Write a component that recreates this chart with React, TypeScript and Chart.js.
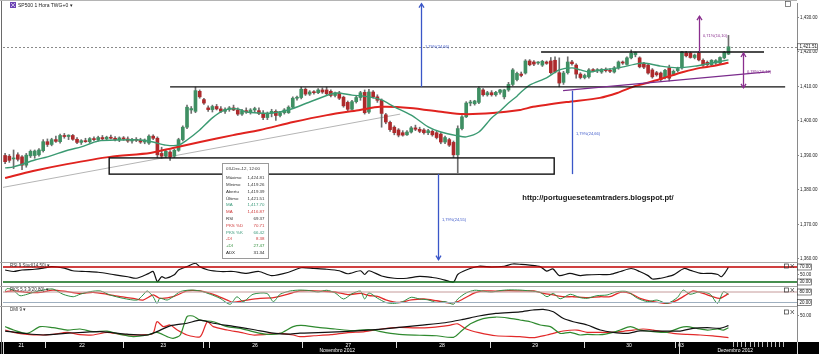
import React, { useEffect, useRef } from "react";
import { Chart, registerables } from "chart.js";

Chart.register(...registerables);

const FONT = "Arial, 'Liberation Sans', sans-serif";

// ---------------- data (hourly candles, bar index 0..171) ----------------
const opens = [
  1390.0, 1389.8, 1389.0, 1390.2, 1389.6, 1387.2, 1389.9, 1390.0, 1390.2, 1391.4,
  1394.0, 1393.2, 1394.6, 1394.0, 1395.8, 1395.5, 1395.8, 1394.7, 1393.8, 1394.3,
  1394.0, 1394.9, 1394.6, 1395.2, 1394.8, 1395.3, 1395.0, 1394.6, 1395.1,
  1394.8, 1394.2, 1394.7, 1394.4, 1393.9, 1393.6, 1395.6, 1395.0, 1390.6, 1389.8, 1391.0,
  1389.8, 1391.5, 1394.6, 1398.2, 1403.2, 1402.8, 1408.6, 1406.2,
  1403.8, 1403.3, 1404.2, 1403.5, 1402.8, 1403.4, 1403.8, 1403.2, 1402.0, 1403.0, 1402.6, 1403.2,
  1403.0, 1402.2, 1401.0, 1402.2, 1402.8, 1401.6, 1402.4, 1402.4, 1404.0, 1406.6, 1406.8,
  1409.2, 1407.8, 1408.4, 1408.2, 1409.0, 1409.0, 1408.6, 1407.4, 1408.1, 1406.9,
  1405.4, 1403.4, 1405.6, 1406.8, 1408.3, 1402.6, 1408.4, 1407.0, 1406.0, 1401.8, 1399.6, 1398.2,
  1397.4, 1396.6, 1396.0, 1396.8, 1398.0, 1397.6, 1397.4, 1396.6, 1397.0, 1396.6, 1396.2, 1393.9,
  1394.6, 1393.8, 1390.2, 1397.8, 1401.2, 1405.2, 1405.0, 1405.4, 1409.0, 1407.6,
  1408.2, 1407.6, 1408.3, 1407.0, 1409.0, 1410.6, 1412.0, 1413.6, 1413.9, 1417.4, 1417.1, 1416.8,
  1416.2, 1417.1, 1417.4, 1417.6, 1414.0, 1411.2, 1414.0, 1417.1, 1416.2, 1413.6, 1412.6,
  1412.8, 1414.8, 1414.6, 1414.2, 1415.0, 1414.6, 1414.2, 1415.4, 1417.1, 1416.4, 1418.3, 1419.2,
  1418.3, 1416.6, 1416.2, 1414.8, 1414.0, 1413.9, 1412.6, 1415.4, 1413.6, 1414.6,
  1415.4, 1419.7, 1419.7, 1418.4, 1419.7, 1417.6, 1417.0, 1416.2, 1416.8, 1416.8, 1418.3, 1419.39,
];
const highs = [
  1390.6, 1390.3, 1391.6, 1390.8, 1390.0, 1390.6, 1391.6, 1391.6, 1392.0, 1394.6,
  1394.8, 1395.0, 1395.6, 1396.2, 1396.4, 1396.0, 1396.1, 1395.2, 1394.6, 1395.0,
  1395.2, 1395.4, 1395.6, 1395.8, 1395.6, 1395.9, 1395.5, 1395.4, 1395.5,
  1395.4, 1395.0, 1395.2, 1395.0, 1394.8, 1396.0, 1396.0, 1395.4, 1392.4, 1391.6, 1391.4,
  1391.8, 1395.0, 1398.6, 1404.6, 1404.2, 1409.8, 1409.0, 1406.6,
  1404.4, 1404.6, 1404.8, 1404.2, 1403.8, 1404.2, 1404.6, 1403.8, 1403.4, 1403.8, 1403.6, 1404.0,
  1403.8, 1403.0, 1402.6, 1403.4, 1403.2, 1402.8, 1403.6, 1404.4, 1407.0, 1407.2, 1409.8,
  1409.6, 1408.8, 1408.8, 1409.4, 1409.6, 1409.8, 1409.0, 1408.4, 1408.6, 1407.2,
  1405.8, 1406.0, 1407.2, 1408.6, 1409.0, 1409.2, 1408.8, 1407.6, 1406.4, 1402.2, 1400.0, 1398.6,
  1397.8, 1397.2, 1397.2, 1398.4, 1398.8, 1398.2, 1397.8, 1397.6, 1397.4, 1397.0, 1396.6, 1395.6,
  1395.0, 1394.2, 1398.6, 1401.6, 1405.6, 1406.0, 1406.0, 1409.9, 1409.4, 1408.6,
  1408.8, 1408.6, 1409.2, 1409.2, 1411.2, 1415.2, 1414.2, 1414.2, 1417.8, 1417.8, 1417.5, 1417.2,
  1417.6, 1417.4, 1418.4, 1418.6, 1418.3, 1414.4, 1418.6, 1417.6, 1416.6, 1414.0, 1413.6,
  1415.2, 1415.2, 1415.2, 1415.2, 1415.4, 1415.2, 1415.8, 1417.4, 1417.4, 1418.6, 1420.6, 1420.0,
  1418.6, 1417.0, 1416.6, 1415.2, 1414.4, 1414.2, 1415.0, 1416.2, 1414.8, 1415.6,
  1420.2, 1420.2, 1420.0, 1419.4, 1420.2, 1418.0, 1417.4, 1417.8, 1417.8, 1418.6, 1420.2, 1424.81,
];
const lows = [
  1387.6, 1388.0, 1386.2, 1388.4, 1385.9, 1386.6, 1389.4, 1389.2, 1389.8, 1391.0,
  1392.6, 1392.8, 1393.8, 1393.6, 1395.0, 1394.6, 1394.4, 1393.4, 1393.2, 1393.8,
  1393.6, 1394.2, 1394.2, 1394.4, 1394.3, 1394.8, 1394.2, 1394.0, 1394.4,
  1393.8, 1393.6, 1394.0, 1393.5, 1393.4, 1393.2, 1394.6, 1389.4, 1389.2, 1389.4, 1388.6,
  1389.4, 1391.2, 1394.2, 1397.8, 1402.2, 1402.4, 1406.6, 1404.8,
  1402.8, 1402.6, 1403.2, 1402.4, 1402.2, 1402.8, 1403.0, 1401.6, 1401.6, 1402.2, 1402.0, 1402.6,
  1401.8, 1400.4, 1400.4, 1401.2, 1400.2, 1401.2, 1402.0, 1402.2, 1403.8, 1406.0, 1406.4,
  1407.4, 1407.4, 1407.8, 1407.9, 1408.0, 1407.6, 1407.0, 1407.0, 1406.2, 1404.0,
  1403.0, 1403.2, 1405.2, 1406.0, 1402.0, 1402.2, 1406.6, 1405.4, 1398.2, 1399.2, 1397.0, 1396.0,
  1395.4, 1395.6, 1395.8, 1396.5, 1397.2, 1396.6, 1396.2, 1396.0, 1395.6, 1394.8, 1393.4, 1393.4,
  1392.6, 1389.4, 1385.0, 1397.4, 1401.0, 1404.4, 1404.6, 1405.0, 1407.2, 1407.2,
  1407.2, 1407.2, 1407.8, 1406.4, 1408.6, 1410.2, 1411.6, 1412.8, 1413.6, 1416.0, 1416.0, 1416.4,
  1415.8, 1416.4, 1413.6, 1413.9, 1409.9, 1410.6, 1413.6, 1416.2, 1412.4, 1412.2, 1412.2,
  1412.4, 1414.2, 1414.0, 1413.8, 1414.2, 1414.0, 1413.9, 1415.0, 1416.4, 1416.2, 1418.0, 1418.6,
  1415.4, 1415.2, 1413.6, 1412.4, 1413.0, 1411.6, 1412.2, 1411.6, 1413.2, 1414.2,
  1415.0, 1418.6, 1418.2, 1418.0, 1417.4, 1415.8, 1415.9, 1415.9, 1416.4, 1416.4, 1418.0, 1419.26,
];
const closes = [
  1388.2, 1388.6, 1389.3, 1388.9, 1387.2, 1390.1, 1391.2, 1391.3, 1391.6, 1394.0,
  1393.2, 1394.6, 1394.1, 1395.8, 1395.5, 1395.9, 1394.7, 1393.8, 1394.3, 1394.0,
  1394.9, 1394.6, 1395.2, 1394.8, 1395.3, 1395.0, 1394.6, 1395.1, 1394.8,
  1394.2, 1394.7, 1394.4, 1393.9, 1394.5, 1395.6, 1395.0, 1390.2, 1389.8, 1391.2, 1389.6,
  1391.5, 1394.6, 1398.2, 1404.0, 1403.6, 1408.8, 1407.0, 1405.2,
  1403.3, 1404.2, 1403.5, 1402.8, 1403.4, 1403.8, 1403.2, 1402.0, 1403.0, 1402.6, 1403.2, 1403.6,
  1402.2, 1401.0, 1402.2, 1402.8, 1401.6, 1402.4, 1403.2, 1404.0, 1406.6, 1406.8, 1409.2,
  1407.8, 1408.4, 1408.2, 1409.0, 1408.4, 1407.9, 1407.4, 1408.1, 1406.6, 1404.4,
  1403.4, 1405.6, 1406.8, 1408.2, 1402.4, 1408.4, 1407.0, 1406.0, 1402.2, 1399.7, 1397.5, 1396.6,
  1395.9, 1395.9, 1396.8, 1398.0, 1397.6, 1397.0, 1396.6, 1397.2, 1396.0, 1395.2, 1393.9, 1395.2,
  1393.0, 1390.2, 1397.8, 1401.2, 1405.2, 1405.5, 1405.8, 1409.5, 1407.6, 1408.2,
  1407.6, 1408.3, 1409.0, 1409.0, 1410.6, 1414.8, 1413.8, 1413.2, 1417.4, 1416.3, 1416.5, 1416.9,
  1417.3, 1416.7, 1414.0, 1414.2, 1411.0, 1413.9, 1417.1, 1416.6, 1413.6, 1412.6, 1413.2,
  1414.8, 1414.6, 1414.9, 1415.0, 1414.6, 1414.4, 1415.4, 1417.1, 1416.8, 1418.3, 1419.6, 1419.8,
  1415.7, 1415.6, 1413.9, 1412.8, 1413.4, 1412.0, 1414.7, 1412.4, 1414.4, 1415.2,
  1420.0, 1418.9, 1418.4, 1419.1, 1417.7, 1416.2, 1416.3, 1417.6, 1417.5, 1418.4, 1419.9, 1421.51,
];
const lastPrice = 1421.51;

// moving averages, read as [bar, price]
const fastMA = [
  [0, 1386.4], [2, 1386.7], [7, 1388.7], [10, 1389.6], [15, 1391.6], [18, 1392.5], [22, 1394.2],
  [27, 1394.5], [32, 1394.5], [35, 1393.9], [38, 1393.0], [41, 1393.0], [43, 1394.5], [46, 1397.4],
  [49, 1400.9], [52, 1403.2], [55, 1403.5], [57, 1402.6], [60, 1402.3], [63, 1402.3], [67, 1403.2],
  [72, 1405.5], [78, 1408.1], [82, 1407.5], [86, 1407.0], [89, 1406.1], [92, 1404.1], [96, 1401.7],
  [100, 1398.3], [103, 1396.8], [107, 1395.7], [109, 1395.4], [112, 1396.8], [115, 1400.9],
  [117, 1402.9], [119, 1405.2], [121, 1407.2], [122, 1408.4], [124, 1410.4], [128, 1412.5],
  [131, 1414.8], [134, 1415.4], [136, 1414.8], [138, 1414.2], [141, 1414.8], [145, 1415.4],
  [149, 1416.5], [151, 1416.8], [155, 1415.9], [159, 1415.4], [163, 1415.9], [167, 1416.8], [171, 1417.7],
];
const slowMA = [
  [0, 1383.5], [6.6, 1385.5], [14.6, 1387.5], [24.8, 1389.6], [34.3, 1390.7], [39.7, 1392.2],
  [46.1, 1393.9], [53.9, 1395.9], [60.3, 1397.4], [68.1, 1399.7], [76.1, 1401.7], [83.9, 1403.2],
  [88.6, 1404.1], [95.7, 1403.8], [103.5, 1402.6], [108.2, 1402.0], [115.3, 1402.3], [121.7, 1403.2],
  [124.8, 1404.1], [132.8, 1405.5], [140.6, 1406.7], [144.7, 1408.1], [148.4, 1409.9], [152.5, 1411.3],
  [156.5, 1412.8], [160.3, 1414.2], [164.3, 1415.4], [167.3, 1415.9], [171, 1416.87],
];

// drawn studies: [fromBar, price] pairs / [fromBar, toBar, price]
const guideLine = [[-1.2, 1380.6], [93.4, 1402.0]];
const purpleTrend = [[131.9, 1408.8], [180.9, 1414.3]];
const levelLines = [[39, 184.4, 1409.9], [126.7, 179.4, 1420.0]];
const zoneBox = [24.6, 129.8, 1389.3, 1384.6];
// [bar, fromPrice, toPrice, label, labelPrice, heads]
const blueMeasures = [
  [98.3, 1409.9, 1434.0, "1,79%(24,66)", 1421.6, 1],
  [102.4, 1384.6, 1359.8, "1,79%(24,55)", 1371.3, 1],
  [134.0, 1408.8, 1384.6, "1,79%(24,66)", 1396.2, 0],
];
const purpleMeasures = [
  [164.1, 1420.0, 1430.4, "0,71%(10,10)", 1424.6, 1],
  [174.4, 1419.7, 1409.6, "0,78%(10,12)", 1414.2, 2],
];

const priceTicks = [1360, 1370, 1380, 1390, 1400, 1410, 1420, 1430];

// indicators, read as [bar, value]
const rsiPoints = [
  [0, 62], [2, 58], [4, 62], [7, 64], [9, 67], [11, 71], [14, 67], [16, 60], [19, 58], [22, 56],
  [26, 49], [29, 44], [31, 40], [34, 53], [35, 58], [36, 31], [37, 44], [38, 40], [40, 49], [41, 62],
  [43, 71], [45, 80], [46, 71], [48, 62], [51, 58], [54, 58], [57, 53], [60, 58], [63, 47], [67, 56],
  [70, 68], [73, 66], [76, 64], [79, 60], [81, 52], [84, 60], [85, 50], [86, 60], [89, 46], [92, 40],
  [95, 40], [98, 45], [101, 42], [103, 38], [106, 30], [107, 50], [109, 62], [112, 72], [115, 70],
  [118, 72], [120, 78], [122, 77], [124, 75], [126.5, 71], [128, 59], [129.5, 65], [131, 47],
  [133.5, 53], [136, 47], [137.5, 49], [140.5, 50], [143, 50], [145.5, 58], [148, 66], [150, 58],
  [152, 47], [153, 38], [155, 40], [156.5, 44], [158, 49], [160.5, 66], [162, 61], [164.5, 53],
  [167, 53], [168.5, 50], [169.3, 44], [170.2, 55], [171, 69.37],
];
const rsiLevels = [70, 30];
const rsiTicks = [30, 50, 70];

const stochK = [
  [0, 86], [0.5, 100], [1.9, 91], [3.5, 59], [5.2, 67], [6.6, 78], [9, 91], [11.3, 97], [13.7, 67],
  [16.1, 53], [17.7, 67], [20.1, 82], [22.5, 86], [24.8, 63], [27.9, 44], [31.2, 34], [32.6, 63],
  [33.6, 86], [35, 53], [35.9, 15], [36.6, 44], [38.3, 34], [39.7, 53], [41.4, 82], [43.7, 91],
  [46.1, 86], [48.5, 67], [50.8, 44], [53.2, 10], [54.8, 53], [56.3, 25], [58.6, 67], [61.9, 72],
  [63.4, 25], [65, 67], [67.4, 86], [69.7, 91], [72, 88], [74, 80], [76, 90], [78, 75], [80, 40],
  [82, 70], [84, 85], [85, 40], [86, 75], [88, 45], [90, 20], [92, 15], [94, 25], [96, 50], [98, 40],
  [100, 35], [102, 20], [104, 25], [106, 10], [107, 40], [109, 75], [111, 90], [113, 85], [115, 80],
  [117, 88], [119, 92], [121.7, 91], [124.1, 86], [126.5, 78], [128.1, 53], [129.6, 72], [131.2, 41],
  [133.6, 67], [135.9, 48], [137.6, 44], [139.9, 59], [142.3, 63], [144.7, 82], [147.1, 82],
  [149.5, 44], [151.9, 25], [154.1, 34], [156.5, 15], [158.9, 48], [160.3, 91], [161.9, 67],
  [164.3, 82], [166.7, 67], [168.4, 15], [169.8, 82], [171, 66.42],
];
const stochD = [
  [0, 82], [1.9, 86], [5.2, 78], [8.3, 78], [11.3, 91], [14.7, 82], [17.7, 72], [20.8, 78], [24.1, 67],
  [27.2, 53], [30.3, 44], [32.6, 34], [35, 63], [36.6, 44], [39.7, 53], [43, 86], [46.1, 86], [49.2, 67],
  [52.5, 34], [53.9, 21], [57.2, 34], [60.3, 44], [63.4, 48], [66.7, 67], [69.7, 86], [72, 88],
  [75, 85], [78, 80], [81, 65], [84, 72], [86, 60], [88, 55], [90, 35], [93, 20], [96, 35], [99, 40],
  [102, 30], [105, 18], [107, 25], [109, 50], [111, 75], [113, 86], [116, 85], [119, 88], [122, 86],
  [125, 86], [127.3, 72], [129.6, 63], [132, 53], [134.3, 53], [137.6, 48], [140.7, 53], [143, 53],
  [145.4, 78], [147.8, 72], [150.1, 44], [153.2, 25], [156.5, 15], [158.9, 34], [161.2, 67],
  [162.6, 86], [165, 72], [167.3, 53], [169, 44], [171, 70.71],
];
const stochLevels = [80, 20];
const stochTicks = [20, 80];

const adxPoints = [
  [0, 21], [4, 17], [9, 13.5], [15, 17], [22.5, 20], [28.8, 15], [33.6, 13.5], [35.9, 20], [39, 31],
  [43, 36], [46.1, 42], [49.2, 36], [54, 30], [58.6, 24], [63.4, 17], [66.7, 15], [69.7, 17], [74, 18],
  [80, 20], [86, 23], [92, 27], [98, 32], [104, 37], [108, 43], [112, 50], [116, 55], [121.7, 58],
  [124.8, 61.5], [127.2, 62.8], [129.6, 58], [131.9, 45.5], [134.3, 39], [137.6, 32.7], [140.7, 23],
  [143.7, 18.6], [147, 16.6], [150.1, 21.2], [153.2, 21], [156.5, 21], [159.6, 21], [162.6, 26.3],
  [166, 27.6], [169, 26.3], [171, 31.34],
];
const plusDI = [
  [0, 29.5], [2, 23], [5.2, 16.6], [8.3, 29.5], [11.3, 27.6], [14.7, 23], [17.7, 25], [20.8, 20],
  [24.1, 21], [27.2, 14.7], [30.3, 10.3], [33.6, 13.5], [35.9, 18.6], [38.3, 10.3], [39.7, 7],
  [41.4, 13.5], [43, 48.7], [44.4, 50], [46.1, 42], [49.2, 39], [52.5, 29.5], [55.6, 26.3], [58.6, 20],
  [61.9, 14.7], [65, 16.6], [68.1, 29.5], [70, 32], [74, 28], [78, 25], [82, 22], [86, 24], [90, 18],
  [94, 14], [98, 13], [102, 12], [106, 9], [108, 22], [110, 35], [113, 45], [116, 48], [119, 46],
  [121.7, 42.3], [124.1, 39], [126.5, 32.7], [128.9, 29.5], [131.2, 16.6], [133.6, 18.6], [135.9, 13.5],
  [137.6, 14.7], [140.7, 14], [143.7, 18.6], [145.4, 23], [147.8, 29.5], [150.1, 23], [153.2, 20],
  [156.5, 18.6], [159.6, 27.6], [161.2, 29.5], [163.5, 26.3], [166, 23], [168.4, 25], [169.8, 23],
  [171, 27.47],
];
const minusDI = [
  [0, 23], [2, 18.6], [5.2, 14.7], [8.3, 13.5], [11.3, 14.7], [14.7, 18.6], [17.7, 14], [20.8, 13.5],
  [24.1, 18.6], [27.2, 14.7], [30.3, 13.5], [33.6, 14], [35, 16.6], [35.9, 39], [37.4, 29.5], [39, 32.7],
  [40.7, 23], [43, 13.5], [46.1, 10.3], [47.8, 39], [49.2, 29.5], [52.5, 23], [55.6, 18.6], [58.6, 13.5],
  [61.9, 14.7], [65, 16.6], [68.1, 13.5], [69.7, 10.3], [73, 12], [77, 14], [81, 18], [85, 20], [89, 25],
  [93, 28], [97, 27], [101, 28], [105, 32], [107, 35], [109, 25], [112, 18], [116, 12], [121.7, 10.3],
  [124.8, 8.3], [128.1, 13.5], [129.6, 16.6], [131.9, 21.2], [135.2, 23], [137.6, 18.6], [140.7, 18.6],
  [143, 18.6], [145.4, 19.9], [148.5, 23], [150.8, 25], [153.2, 23], [155.5, 19.9], [157.9, 16.6],
  [161.2, 14.7], [164.3, 13.5], [167.3, 11.6], [171, 8.38],
];
const dmiTicks = [50];

// time axis
const dayLabels = ["21", "22", "23", "26", "27", "28", "29", "30", "03"];
const dayLabelBars = [3.8, 18.2, 37.4, 59.1, 81.1, 103.3, 125.3, 147.5, 159.8];
const daySeparatorBars = [9.5, 27.9, 46.8, 48.2, 70.2, 92.4, 114.7, 136.9, 158.4];
const monthLabels = ["Novembro 2012", "Dezembro 2012"];
const monthLabelBars = [78.5, 172.6];
const monthSeparatorBars = [159.3];
const futureBars = [172, 173, 174, 175, 176, 177, 178, 179, 180, 181, 182, 183, 184];

// data window
const tipTitle = "03-Dec-12, 12:00";
const tipLabels = ["Máximo", "Mínimo", "Abertu", "Último", "MA", "MA", "RSI", "PKS %D", "PKS %K", "-DI", "+DI", "ADX"];
const tipValues = ["1,424.81", "1,419.26", "1,419.39", "1,421.51", "1,417.70", "1,416.87", "69.37", "70.71", "66.42", "8.38", "27.47", "31.34"];

// ---------------- styling ----------------
const X_MIN = -0.5;
const X_MAX = 187.2;
const GREEN_BODY = "#3f8f63";
const RED_BODY = "#ad2a2c";
const FAST_MA = "#3b9a72";
const SLOW_MA = "#e0231f";
const BLUE = "#3a56c8";
const PURPLE = "#8a2e8e";
const tipColors = ["#333", "#333", "#333", "#333", "#3a9a7a", "#cf3a3a", "#333", "#cf3a3a", "#3a9a7a", "#cf3a3a", "#2f8f3a", "#222"];

const priceFmt = (v: number) => Number(v).toLocaleString("en-US", { minimumFractionDigits: 2, maximumFractionDigits: 2 });
const numFmt = (v: number) => Number(v).toFixed(2);
const pts = (arr: any[]) => arr.map(([x, y]) => ({ x, y }));
const flat = (v: number) => [{ x: X_MIN, y: v }, { x: X_MAX, y: v }];

function hiddenX() {
  return { type: "linear", min: X_MIN, max: X_MAX, offset: false, display: false };
}

function rightAxis(min: number, max: number, ticks: number[], fmt: (v: number) => string) {
  return {
    position: "right",
    min,
    max,
    afterBuildTicks: (s: any) => {
      s.ticks = ticks.map((v) => ({ value: v }));
    },
    afterFit: (s: any) => {
      s.width = 22;
      s.paddingTop = 0;
      s.paddingBottom = 0;
    },
    grid: { display: true, drawOnChartArea: false, drawTicks: true, tickLength: 2, color: "#8a8a8a" },
    border: { display: true, color: "#8a8a8a", width: 1 },
    ticks: {
      font: { size: 4.5, family: FONT },
      color: "#222",
      padding: 1,
      autoSkip: false,
      callback: (v: number) => fmt(v),
    },
  };
}

function chevron(ctx: CanvasRenderingContext2D, x: number, y: number, dir: number) {
  // dir -1: pointing up, +1: pointing down
  ctx.beginPath();
  ctx.moveTo(x - 2.5, y - dir * 4);
  ctx.lineTo(x, y);
  ctx.lineTo(x + 2.5, y - dir * 4);
  ctx.stroke();
}

function drawIcons(ctx: CanvasRenderingContext2D, y: number) {
  ctx.save();
  ctx.strokeStyle = "#333";
  ctx.lineWidth = 0.7;
  ctx.strokeRect(784.5, y - 2, 4, 4);
  ctx.beginPath();
  ctx.moveTo(790.5, y - 2);
  ctx.lineTo(794, y + 2);
  ctx.moveTo(794, y - 2);
  ctx.lineTo(790.5, y + 2);
  ctx.stroke();
  ctx.restore();
}

function frame(ctx: CanvasRenderingContext2D, h: number, top: boolean) {
  ctx.save();
  ctx.fillStyle = "#6a6a6a";
  ctx.fillRect(1, 0, 1, h);
  if (top) {
    ctx.fillStyle = "#b4b4b4";
    ctx.fillRect(0, 0, 797, 1);
  }
  ctx.restore();
}

const mainDeco = {
  id: "mainDeco",
  beforeDatasetsDraw(chart: any) {
    const { ctx, chartArea: a, scales } = chart;
    const yy = Math.round(scales.y.getPixelForValue(lastPrice)) + 0.5;
    ctx.save();
    ctx.strokeStyle = "#8a8a8a";
    ctx.lineWidth = 1;
    ctx.setLineDash([2, 2]);
    ctx.beginPath();
    ctx.moveTo(a.left, yy);
    ctx.lineTo(a.right, yy);
    ctx.stroke();
    ctx.restore();
  },
  afterDatasetsDraw(chart: any) {
    const { ctx, scales } = chart;
    const X = (v: number) => scales.x.getPixelForValue(v);
    const Y = (v: number) => scales.y.getPixelForValue(v);
    ctx.save();
    ctx.strokeStyle = "#111";
    ctx.lineWidth = 1.4;
    levelLines.forEach(([b0, b1, p]) => {
      ctx.beginPath();
      ctx.moveTo(X(b0), Y(p));
      ctx.lineTo(X(b1), Y(p));
      ctx.stroke();
    });
    const [zb0, zb1, zp0, zp1] = zoneBox;
    ctx.strokeRect(X(zb0), Y(zp0), X(zb1) - X(zb0), Y(zp1) - Y(zp0));

    ctx.strokeStyle = "#7a2c8c";
    ctx.lineWidth = 1.4;
    ctx.beginPath();
    ctx.moveTo(X(purpleTrend[0][0]), Y(purpleTrend[0][1]));
    ctx.lineTo(X(purpleTrend[1][0]), Y(purpleTrend[1][1]));
    ctx.stroke();

    const measure = (list: any[], color: string) => {
      ctx.strokeStyle = color;
      ctx.fillStyle = color;
      ctx.lineWidth = 1.3;
      list.forEach(([b, p0, p1, label, lp, heads]) => {
        const x = Math.round(X(b)) + 0.5;
        const y0 = Y(p0);
        const y1 = Y(p1);
        ctx.beginPath();
        ctx.moveTo(x, y0);
        ctx.lineTo(x, y1);
        ctx.stroke();
        const dir = y1 < y0 ? -1 : 1;
        if (heads >= 1) chevron(ctx, x, y1, dir);
        if (heads >= 2) chevron(ctx, x, y0, -dir);
        ctx.font = `4px ${FONT}`;
        ctx.textAlign = "left";
        ctx.textBaseline = "middle";
        ctx.fillText(label, x + 3.5, Y(lp));
      });
    };
    measure(blueMeasures, BLUE);
    measure(purpleMeasures, PURPLE);
    ctx.restore();
  },
  afterDraw(chart: any) {
    const { ctx, scales } = chart;
    const Y = (v: number) => scales.y.getPixelForValue(v);
    frame(ctx, chart.height, true);
    ctx.save();
    // watermark
    ctx.font = `bold 7.6px ${FONT}`;
    ctx.fillStyle = "#151515";
    ctx.textAlign = "center";
    ctx.textBaseline = "middle";
    ctx.fillText("http://portugueseteamtraders.blogspot.pt/", 598, 198);

    // data window
    const bx = 222, by = 163.5, bw = 46, bh = 95;
    ctx.fillStyle = "#fff";
    ctx.fillRect(bx, by, bw, bh);
    ctx.strokeStyle = "#9a9a9a";
    ctx.lineWidth = 1;
    ctx.strokeRect(bx + 0.5, by, bw, bh);
    ctx.font = `4.4px ${FONT}`;
    ctx.textBaseline = "middle";
    ctx.fillStyle = "#333";
    ctx.textAlign = "left";
    ctx.fillText(tipTitle, bx + 4, by + 5.5);
    tipLabels.forEach((lab, i) => {
      const ry = by + 14.5 + i * 6.8;
      ctx.fillStyle = tipColors[i];
      ctx.textAlign = "left";
      ctx.fillText(lab, bx + 4, ry);
      ctx.textAlign = "right";
      ctx.fillText(tipValues[i], bx + bw - 3.5, ry);
    });

    // title
    ctx.fillStyle = "#6d45b5";
    ctx.fillRect(10, 2, 6, 6);
    ctx.strokeStyle = "#fff";
    ctx.lineWidth = 0.6;
    ctx.beginPath();
    ctx.moveTo(11, 7);
    ctx.lineTo(15, 3);
    ctx.moveTo(11, 3);
    ctx.lineTo(15, 7);
    ctx.stroke();
    ctx.font = `5px ${FONT}`;
    ctx.fillStyle = "#222";
    ctx.textAlign = "left";
    ctx.textBaseline = "middle";
    ctx.fillText("SP500 1 Hora TWG+0 \u25BE", 18, 5.2);

    // last price box
    const py = Y(lastPrice);
    ctx.fillStyle = "#fff";
    ctx.fillRect(797.5, py - 3, 20, 6);
    ctx.strokeStyle = "#333";
    ctx.lineWidth = 0.6;
    ctx.strokeRect(797.5, py - 3, 20, 6);
    ctx.font = `4.5px ${FONT}`;
    ctx.fillStyle = "#111";
    ctx.fillText(priceFmt(lastPrice), 799.5, py);

    // top-right icon
    ctx.strokeStyle = "#555";
    ctx.lineWidth = 0.7;
    ctx.strokeRect(785.5, 1.5, 5, 5);
    ctx.restore();
  },
};

function panelDeco(id: string, title: string, boxed: number[], fmt: (v: number) => string, iconY: number) {
  return {
    id,
    afterDraw(chart: any) {
      const { ctx, scales } = chart;
      frame(ctx, chart.height, false);
      ctx.save();
      ctx.fillStyle = "#a8a8a8";
      ctx.fillRect(0, 0, 797, 1);
      ctx.font = `4.5px ${FONT}`;
      ctx.fillStyle = "#333";
      ctx.textAlign = "left";
      ctx.textBaseline = "middle";
      ctx.fillText(title, 10, 4);
      ctx.strokeStyle = "#333";
      ctx.lineWidth = 0.6;
      boxed.forEach((v) => {
        const y = scales.y.getPixelForValue(v);
        ctx.fillStyle = "#fff";
        ctx.fillRect(797.5, y - 3, 14, 6);
        ctx.strokeRect(797.5, y - 3, 14, 6);
        ctx.fillStyle = "#111";
        ctx.fillText(fmt(v), 799.5, y);
      });
      ctx.restore();
      drawIcons(ctx, iconY);
    },
  };
}

const bandDeco = {
  id: "bandDeco",
  beforeDraw(chart: any) {
    const { ctx, chartArea: a } = chart;
    ctx.save();
    ctx.fillStyle = "#000";
    ctx.fillRect(0, a.bottom, chart.width, chart.height - a.bottom);
    ctx.restore();
  },
  afterDraw(chart: any) {
    const { ctx, chartArea: a, scales } = chart;
    const X = (v: number) => Math.round(scales.x.getPixelForValue(v)) + 0.5;
    const b = a.bottom;
    ctx.save();
    ctx.strokeStyle = "#d8d8d8";
    ctx.lineWidth = 1;
    ctx.beginPath();
    daySeparatorBars.forEach((v) => {
      ctx.moveTo(X(v), b);
      ctx.lineTo(X(v), b + 6);
    });
    monthSeparatorBars.forEach((v) => {
      ctx.moveTo(X(v), b);
      ctx.lineTo(X(v), chart.height);
    });
    ctx.moveTo(3.5, b);
    ctx.lineTo(3.5, chart.height);
    ctx.moveTo(797.5, b);
    ctx.lineTo(797.5, chart.height);
    ctx.stroke();
    ctx.strokeStyle = "#bbbbbb";
    ctx.beginPath();
    futureBars.forEach((v) => {
      ctx.moveTo(X(v), b);
      ctx.lineTo(X(v), b + 5);
    });
    ctx.stroke();
    ctx.font = `5px ${FONT}`;
    ctx.fillStyle = "#fff";
    ctx.textAlign = "center";
    ctx.textBaseline = "middle";
    monthLabels.forEach((m, i) => ctx.fillText(m, scales.x.getPixelForValue(monthLabelBars[i]), b + 9));
    ctx.restore();
  },
};

const common = {
  animation: false,
  responsive: false,
  maintainAspectRatio: false,
  events: [],
  plugins: { legend: { display: false }, tooltip: { enabled: false } },
  elements: { point: { radius: 0 }, line: { tension: 0.25 } },
};

export default function App() {
  const mainRef = useRef<HTMLCanvasElement>(null);
  const rsiRef = useRef<HTMLCanvasElement>(null);
  const stoRef = useRef<HTMLCanvasElement>(null);
  const dmiRef = useRef<HTMLCanvasElement>(null);

  useEffect(() => {
    const idx = closes.map((_, i) => i);
    const bodyColors = idx.map((i) => (closes[i] >= opens[i] ? GREEN_BODY : RED_BODY));

    const main = new Chart(mainRef.current as HTMLCanvasElement, {
      type: "bar",
      data: {
        datasets: [
          {
            type: "line",
            data: pts(guideLine),
            borderColor: "#b5b5b5",
            borderWidth: 1,
            tension: 0,
            order: 6,
          },
          {
            type: "bar",
            data: idx.map((i) => ({ x: i, y: [lows[i], highs[i]] })),
            backgroundColor: "#6e6e6e",
            barThickness: 1,
            grouped: false,
            order: 5,
          },
          {
            type: "bar",
            data: idx.map((i) => ({ x: i, y: [opens[i], closes[i]] })),
            backgroundColor: bodyColors,
            barThickness: 3,
            minBarLength: 1,
            grouped: false,
            order: 4,
          },
          {
            type: "line",
            data: pts(slowMA),
            borderColor: SLOW_MA,
            borderWidth: 2,
            order: 2,
          },
          {
            type: "line",
            data: pts(fastMA),
            borderColor: FAST_MA,
            borderWidth: 1.4,
            order: 1,
          },
        ],
      } as any,
      options: {
        ...common,
        layout: { padding: { left: 3, top: 3, right: 0, bottom: 1 } },
        scales: {
          x: hiddenX(),
          y: rightAxis(1359.42, 1434.2, priceTicks, priceFmt),
        },
      } as any,
      plugins: [mainDeco],
    });

    const rsi = new Chart(rsiRef.current as HTMLCanvasElement, {
      type: "line",
      data: {
        datasets: [
          { data: flat(rsiLevels[0]), borderColor: "#c00000", borderWidth: 1.5, tension: 0 },
          { data: flat(rsiLevels[1]), borderColor: "#0a6a14", borderWidth: 1.5, tension: 0 },
          { data: pts(rsiPoints), borderColor: "#111", borderWidth: 1.2 },
        ],
      } as any,
      options: {
        ...common,
        layout: { padding: { left: 3, top: 0, right: 0, bottom: 0 } },
        scales: { x: hiddenX(), y: rightAxis(19.3, 83.3, rsiTicks, numFmt) },
      } as any,
      plugins: [panelDeco("rsiDeco", "RSI 9 Stud(14,50) \u25BE", [70, 30], numFmt, 4)],
    });

    const sto = new Chart(stoRef.current as HTMLCanvasElement, {
      type: "line",
      data: {
        datasets: [
          { data: flat(stochLevels[0]), borderColor: "#c59a9a", borderWidth: 1, tension: 0 },
          { data: flat(stochLevels[1]), borderColor: "#9fb0c0", borderWidth: 1, tension: 0 },
          { data: pts(stochK), borderColor: "#2f8f45", borderWidth: 1 },
          { data: pts(stochD), borderColor: "#e22a2a", borderWidth: 1.3 },
        ],
      } as any,
      options: {
        ...common,
        layout: { padding: { left: 3, top: 0, right: 0, bottom: 0 } },
        scales: { x: hiddenX(), y: rightAxis(0, 114.3, stochTicks, numFmt) },
      } as any,
      plugins: [panelDeco("stoDeco", "PKS 5,3,3(20,80) \u25BE", [80, 20], numFmt, 4)],
    });

    const dmi = new Chart(dmiRef.current as HTMLCanvasElement, {
      type: "line",
      data: {
        datasets: [
          { data: pts(adxPoints), borderColor: "#111", borderWidth: 1.2 },
          { data: pts(plusDI), borderColor: "#2f8a2f", borderWidth: 1.2 },
          { data: pts(minusDI), borderColor: "#e22a2a", borderWidth: 1.2 },
        ],
      } as any,
      options: {
        ...common,
        layout: { padding: { left: 3, top: 0, right: 0, bottom: 0 } },
        scales: {
          x: {
            type: "linear",
            min: X_MIN,
            max: X_MAX,
            offset: false,
            position: "bottom",
            afterBuildTicks: (s: any) => {
              s.ticks = dayLabelBars.map((v) => ({ value: v }));
            },
            afterFit: (s: any) => {
              s.height = 12;
              s.paddingLeft = 0;
              s.paddingRight = 0;
            },
            grid: { display: false, drawTicks: false },
            border: { display: false },
            ticks: {
              color: "#fff",
              font: { size: 5, family: FONT },
              padding: 1,
              autoSkip: false,
              maxRotation: 0,
              minRotation: 0,
              callback: (_v: number, i: number) => dayLabels[i],
            },
          },
          y: rightAxis(0, 69.2, dmiTicks, numFmt),
        },
      } as any,
      plugins: [panelDeco("dmiDeco", "DMI 9 \u25BE", [], numFmt, 6), bandDeco],
    });

    return () => {
      main.destroy();
      rsi.destroy();
      sto.destroy();
      dmi.destroy();
    };
  }, []);

  const abs = (top: number): React.CSSProperties => ({ position: "absolute", left: 0, top, display: "block" });
  return (
    <div style={{ position: "fixed", left: 0, top: 0, width: 819, height: 354, background: "#fff", overflow: "hidden" }}>
      <canvas ref={mainRef} width={819} height={262} style={abs(0)} />
      <canvas ref={rsiRef} width={819} height={24} style={abs(262)} />
      <canvas ref={stoRef} width={819} height={20} style={abs(286)} />
      <canvas ref={dmiRef} width={819} height={48} style={abs(306)} />
    </div>
  );
}
